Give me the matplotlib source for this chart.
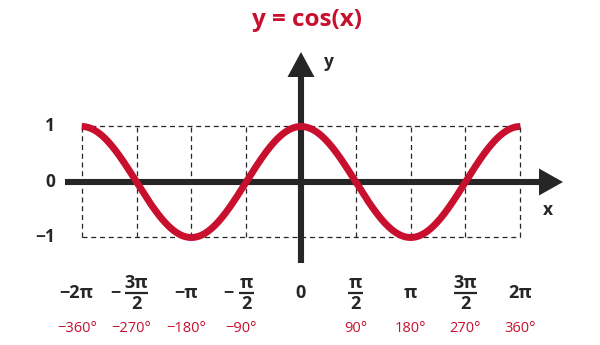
import matplotlib
matplotlib.use("Agg")
import matplotlib.pyplot as plt
import numpy as np
from matplotlib.patches import Polygon

plt.rcParams['font.family'] = ['Open Sans', 'DejaVu Sans']

# data
tick_halfpi = [-4, -3, -2, -1, 0, 1, 2, 3, 4]
rad_labels = ['−2π', '−3π/2', '−π', '−π/2', '0', 'π/2', 'π', '3π/2', '2π']
deg_labels = ['−360°', '−270°', '−180°', '−90°', '', '90°', '180°', '270°', '360°']
y_ticks = [1, 0, -1]
y_labels = ['1', '0', '−1']

x_curve = np.linspace(-2 * np.pi, 2 * np.pi, 600)
y_curve = np.cos(x_curve)

RED = '#C8102E'
DARK = '#262626'
W = 'bold'

# pixel <-> data mapping (axes fill the whole figure)
PX, X0 = 34.9, 301.0
PY, Y0 = 55.5, 182.0


def px(p):
    return (p - X0) / PX


def py(p):
    return (Y0 - p) / PY


fig = plt.figure(figsize=(6, 3.45), dpi=100)
ax = fig.add_axes([0, 0, 1, 1])
ax.set_xlim(px(0), px(600))
ax.set_ylim(py(345), py(0))
ax.axis('off')

xt = [k * np.pi / 2 for k in tick_halfpi]

# dashed guide box
dash = dict(color=DARK, lw=0.9, ls=(0, (4, 3)), zorder=1)
for x in xt:
    ax.plot([x, x], [-1, 1], **dash)
for yv in (1, -1):
    ax.plot([xt[0], xt[-1]], [yv, yv], **dash)

# axes with arrows
ax.plot([px(65), px(540)], [0, 0], color=DARK, lw=4.4, solid_capstyle='butt', zorder=2)
ax.add_patch(Polygon([(px(563), 0), (px(539), py(182 - 13.5)), (px(539), py(182 + 13.5))],
                     closed=True, color=DARK, lw=0, zorder=2))
ax.plot([0, 0], [py(263), py(75)], color=DARK, lw=4.4, solid_capstyle='butt', zorder=2)
ax.add_patch(Polygon([(0, py(52)), (px(X0 - 13.5), py(77)), (px(X0 + 13.5), py(77))],
                     closed=True, color=DARK, lw=0, zorder=2))

# curve
ax.plot(x_curve, y_curve, color=RED, lw=5, solid_capstyle='butt', zorder=3)

# titles / axis names
ax.text(px(307), py(20), 'y = cos(x)', color=RED, fontsize=17.5, fontweight='bold',
        ha='center', va='center')
ax.text(px(329), py(62), 'y', color=DARK, fontsize=12.5, fontweight=W, ha='center', va='center')
ax.text(px(548), py(210), 'x', color=DARK, fontsize=12.5, fontweight=W, ha='center', va='center')

# y tick labels
for yv, lab in zip(y_ticks, y_labels):
    ax.text(px(55), yv, lab, color=DARK, fontsize=12.5, fontweight=W, ha='right', va='center')

# radian labels
lab_kw = dict(color=DARK, fontsize=13, fontweight=W, ha='center', va='center')
for x, lab in zip(xt, rad_labels):
    neg = lab.startswith('−')
    if '/' in lab:
        body = lab.lstrip('−')
        num, den = body.split('/')
        bar = 23 if len(num) > 1 else 15
        ax.text(x, py(283), num, **lab_kw)
        ax.text(x, py(304), den, **lab_kw)
        ax.plot([x - bar / 2 / PX, x + bar / 2 / PX], [py(292.5)] * 2, color=DARK, lw=1.6,
                solid_capstyle='butt')
        if neg:
            ax.text(x - (bar / 2 + 10) / PX, py(292), '−', **lab_kw)
    else:
        off = -5 / PX if neg else 0
        ax.text(x + off, py(293), lab, **lab_kw)

# degree labels
for x, lab in zip(xt, deg_labels):
    if not lab:
        continue
    off = -5 / PX if lab.startswith('−') else 0
    ax.text(x + off, py(328), lab, color=RED, fontsize=10.5, ha='center', va='center')

fig.savefig('out.png', dpi=100)
